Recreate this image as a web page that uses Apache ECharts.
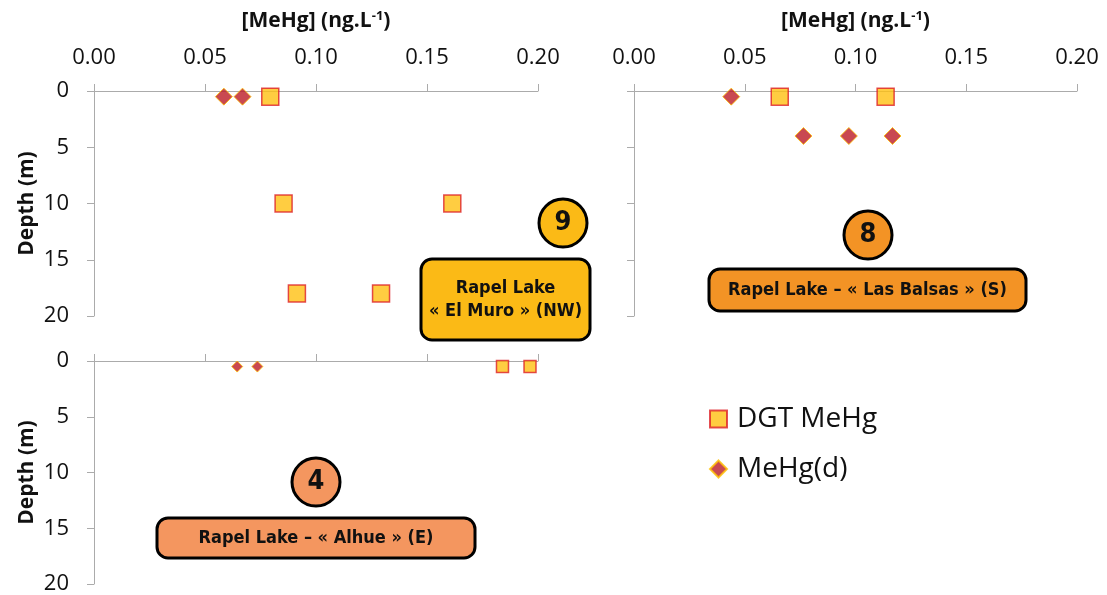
<!DOCTYPE html>
<html>
<head>
<meta charset="utf-8">
<script src="https://cdn.jsdelivr.net/npm/echarts@6/dist/echarts.min.js"></script>
<style>
html,body{margin:0;padding:0;background:#fff;}
#chart{width:1107px;height:595px;}
</style>
</head>
<body>
<div id="chart"></div>
<script>
// ---- Data (concentration in ng/L, depth in m) ----
const xTicks = [0.00, 0.05, 0.10, 0.15, 0.20];
const depthTicks = [0, 5, 10, 15, 20];

// Site 9 : Rapel Lake « El Muro » (NW)
const elMuroDgtConc  = [0.0794, 0.0854, 0.1614, 0.0914, 0.1293];
const elMuroDgtDepth = [0.5, 10, 10, 18, 18];
const elMuroDisConc  = [0.0585, 0.0669];
const elMuroDisDepth = [0.5, 0.5];

// Site 8 : Rapel Lake « Las Balsas » (S)
const balsasDgtConc  = [0.0658, 0.1136];
const balsasDgtDepth = [0.5, 0.5];
const balsasDisConc  = [0.0439, 0.0765, 0.0970, 0.1167];
const balsasDisDepth = [0.5, 4, 4, 4];

// Site 4 : Rapel Lake « Alhue » (E)
const alhueDgtConc   = [0.1840, 0.1964];
const alhueDgtDepth  = [0.5, 0.5];
const alhueDisConc   = [0.0645, 0.0736];
const alhueDisDepth  = [0.5, 0.5];

const zip = (a, b) => a.map((v, i) => [v, b[i]]);

const AX = '#ABABAB';
const FONT = '"Open Sans", "Noto Sans", sans-serif';
const NARROW = '"Liberation Sans Narrow", "DejaVu Sans Condensed", "Liberation Sans", sans-serif';

const sqStyle = { color: '#FFC012', borderColor: '#DD2127', borderWidth: 1.5 };
const diaStyle = { color: '#BC1C26', borderColor: '#FFC000', borderWidth: 1 };

function xAxis(gridIndex, showLabels) {
  return {
    gridIndex, type: 'value', position: 'top', min: 0, max: 0.2, interval: 0.05,
    axisLine: { show: true, lineStyle: { color: AX, width: 1 } },
    axisTick: { show: true, length: 7, lineStyle: { color: AX } },
    splitLine: { show: false },
    axisLabel: { show: showLabels, margin: 22, fontSize: 22, fontFamily: FONT, color: '#111',
      formatter: v => v.toFixed(2) },
    name: showLabels ? '[MeHg] (ng.L{sup|-1})' : '',
    nameLocation: 'middle', nameGap: 58,
    nameTextStyle: { fontSize: 21, fontWeight: 'bold', fontFamily: FONT, color: '#111',
      rich: { sup: { fontSize: 13, fontWeight: 'bold', fontFamily: FONT, color: '#111', padding: [0, 0, 10, 0] } } }
  };
}
function yAxis(gridIndex, showLabels) {
  return {
    gridIndex, type: 'value', inverse: true, min: 0, max: 20, interval: 5,
    axisLine: { show: true, onZero: false, lineStyle: { color: AX, width: 1 } },
    axisTick: { show: true, length: 7, lineStyle: { color: AX } },
    splitLine: { show: false },
    axisLabel: { show: showLabels, margin: 25, fontSize: 22, fontFamily: FONT, color: '#111' },
    name: showLabels ? 'Depth (m)' : '',
    nameLocation: 'middle', nameGap: 56,
    nameTextStyle: { fontSize: 21, fontWeight: 'bold', fontFamily: FONT, color: '#111' }
  };
}

function circle(cx, cy, color, label) {
  return [
    { type: 'circle', shape: { cx, cy, r: 24 }, style: { fill: color, stroke: '#000', lineWidth: 3 }, z: 10 },
    { type: 'text', x: cx, y: cy, style: { text: label, fill: '#111', font: 'bold 27px ' + NARROW,
      align: 'center', verticalAlign: 'middle' }, z: 11 }
  ];
}
function box(x, y, w, h, color, text, fontSize) {
  return [
    { type: 'rect', shape: { x, y, width: w, height: h, r: 11 }, style: { fill: color, stroke: '#000', lineWidth: 3 }, z: 10 },
    { type: 'text', x: x + w / 2, y: y + h / 2, style: { text, fill: '#111', font: 'bold ' + fontSize + 'px ' + NARROW,
      align: 'center', verticalAlign: 'middle', lineHeight: 23 }, z: 11 }
  ];
}

const chart = echarts.init(document.getElementById('chart'), null, { renderer: 'canvas' });
chart.setOption({
  animation: false,
  backgroundColor: '#fff',
  grid: [
    { left: 94, top: 91, width: 444, height: 225 },
    { left: 634, top: 91, width: 443, height: 225 },
    { left: 94, top: 361, width: 444, height: 226 }
  ],
  xAxis: [xAxis(0, true), xAxis(1, true), xAxis(2, false)],
  yAxis: [yAxis(0, true), yAxis(1, false), yAxis(2, true)],
  legend: {
    orient: 'vertical', left: 704, top: 399, itemGap: 20, itemWidth: 17, itemHeight: 17,
    data: [{ name: 'DGT MeHg', icon: 'rect' }, { name: 'MeHg(d)', icon: 'diamond' }],
    textStyle: { fontSize: 28, fontFamily: FONT, color: '#111', lineHeight: 30, padding: [0, 0, 0, 5] }
  },
  series: [
    { name: 'DGT MeHg', type: 'scatter', xAxisIndex: 0, yAxisIndex: 0, symbol: 'rect', symbolSize: 17,
      itemStyle: sqStyle, data: zip(elMuroDgtConc, elMuroDgtDepth) },
    { name: 'MeHg(d)', type: 'scatter', xAxisIndex: 0, yAxisIndex: 0, symbol: 'diamond', symbolSize: 17,
      itemStyle: diaStyle, data: zip(elMuroDisConc, elMuroDisDepth) },
    { name: 'DGT MeHg', type: 'scatter', xAxisIndex: 1, yAxisIndex: 1, symbol: 'rect', symbolSize: 17,
      itemStyle: sqStyle, data: zip(balsasDgtConc, balsasDgtDepth) },
    { name: 'MeHg(d)', type: 'scatter', xAxisIndex: 1, yAxisIndex: 1, symbol: 'diamond', symbolSize: 17,
      itemStyle: diaStyle, data: zip(balsasDisConc, balsasDisDepth) },
    { name: 'DGT MeHg', type: 'scatter', xAxisIndex: 2, yAxisIndex: 2, symbol: 'rect', symbolSize: 12,
      itemStyle: sqStyle, data: zip(alhueDgtConc, alhueDgtDepth) },
    { name: 'MeHg(d)', type: 'scatter', xAxisIndex: 2, yAxisIndex: 2, symbol: 'diamond', symbolSize: 11,
      itemStyle: diaStyle, data: zip(alhueDisConc, alhueDisDepth) }
  ],
  graphic: [
    ...circle(563, 223, '#FBBA16', '9'),
    ...box(421, 259, 169, 81, '#FBBA16', 'Rapel Lake\n« El Muro » (NW)', 18),
    ...circle(868, 235, '#F39325', '8'),
    ...box(709, 269, 317, 42, '#F39325', 'Rapel Lake – « Las Balsas » (S)', 18),
    ...circle(316, 482, '#F4965F', '4'),
    ...box(157, 518, 318, 40, '#F4965F', 'Rapel Lake – « Alhue » (E)', 18)
  ]
});
</script>
</body>
</html>
